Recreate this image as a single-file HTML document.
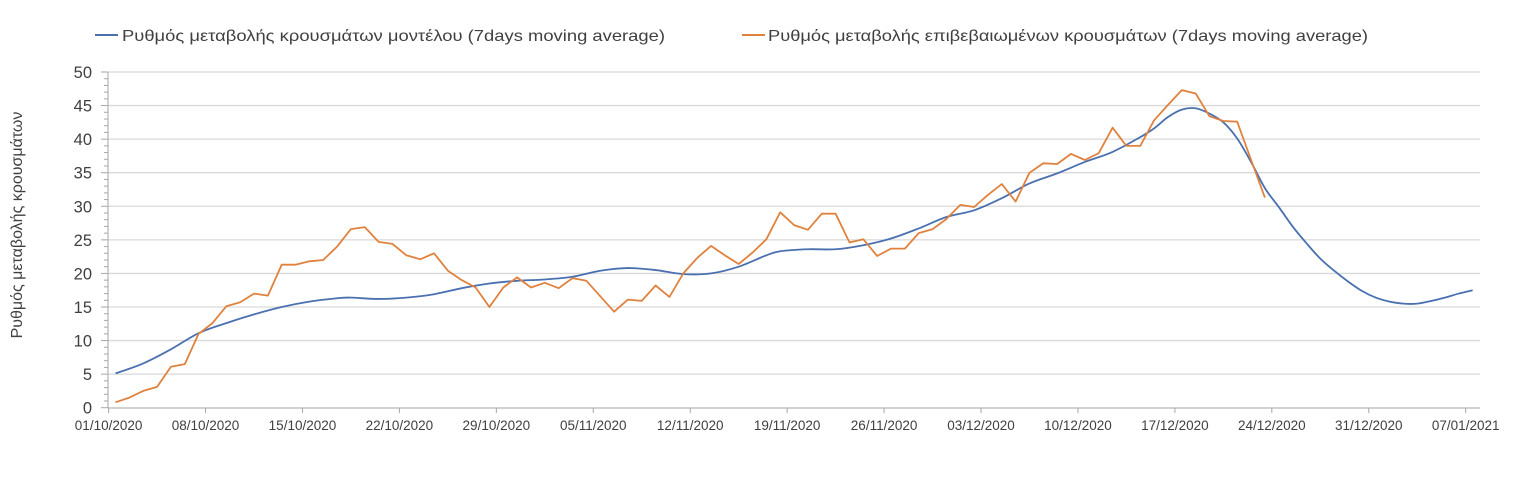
<!DOCTYPE html>
<html><head><meta charset="utf-8"><style>
html,body{margin:0;padding:0;background:#fff;width:1517px;height:487px;overflow:hidden}
svg{display:block;font-family:"Liberation Sans",sans-serif}
</style></head><body>
<svg id="s" width="1517" height="487" xmlns="http://www.w3.org/2000/svg">
<line x1="95" y1="35" x2="118" y2="35" stroke="#4a70b0" stroke-width="2"/>
<text x="122" y="41" font-size="16" fill="#404040" textLength="543" lengthAdjust="spacingAndGlyphs">Ρυθμός μεταβολής κρουσμάτων μοντέλου (7days moving average)</text>
<line x1="742" y1="35" x2="765" y2="35" stroke="#e0823e" stroke-width="2"/>
<text x="768" y="41" font-size="16" fill="#404040" textLength="600" lengthAdjust="spacingAndGlyphs">Ρυθμός μεταβολής επιβεβαιωμένων κρουσμάτων (7days moving average)</text>
<text transform="translate(22,225) rotate(-90)" text-anchor="middle" font-size="16" fill="#404040">Ρυθμός μεταβολής κρουσμάτων</text>
<g id="g"></g>
</svg>
<script>
var g=document.getElementById('g'),h='';
function X(d){return 108.6+13.848*(d+0.5);}
function Y(v){return 407.7-v*6.714;}
for(var v=0;v<=50;v+=5){var y=Y(v);
 if(v>0)h+='<line x1="108" y1="'+y+'" x2="1480" y2="'+y+'" stroke="#d9d9d9" stroke-width="1.3"/>';
 h+='<text x="92" y="'+(y+6)+'" text-anchor="end" font-size="16.5" fill="#404040">'+v+'</text>';}
for(var v=0;v<=50;v++){var y=Y(v);h+='<line x1="'+(v%5?104:101)+'" y1="'+y+'" x2="108" y2="'+y+'" stroke="#a6a6a6" stroke-width="1"/>';}
h+='<line x1="108" y1="72" x2="108" y2="408" stroke="#a6a6a6"/><line x1="108" y1="408" x2="1480" y2="408" stroke="#a6a6a6"/>';
var labs=['01/10/2020','08/10/2020','15/10/2020','22/10/2020','29/10/2020','05/11/2020','12/11/2020','19/11/2020','26/11/2020','03/12/2020','10/12/2020','17/12/2020','24/12/2020','31/12/2020','07/01/2021'];
for(var i=0;i<labs.length;i++){var x=108.6+13.848*7*i;h+='<line x1="'+x+'" y1="408" x2="'+x+'" y2="413" stroke="#a6a6a6"/>';
 h+='<text x="'+x+'" y="430" text-anchor="middle" font-size="13.5" fill="#404040">'+labs[i]+'</text>';}
var bk={0:5.1,2:6.6,4:8.7,6:11.1,8:12.6,10:13.9,12:15.0,14:15.8,16:16.3,17:16.4,19:16.2,21:16.4,23:16.9,25:17.8,27:18.5,29:18.9,31:19.1,33:19.5,35:20.4,37:20.8,39:20.5,41:19.9,43:20.0,45:21.0,47:22.7,48:23.3,50:23.6,52:23.6,54:24.2,56:25.2,58:26.7,60:28.4,62:29.4,64:31.2,66:33.4,68:34.9,70:36.6,72:38.1,74:40.3,75:41.6,76:43.3,77:44.4,78:44.6,79:43.8,80:42.5,81:40.1,82:36.6,83:32.7,84:29.9,85:27.0,86:24.5,87:22.2,88:20.4,89:18.8,90:17.4,91:16.4,92:15.8,93:15.5,94:15.5,95:15.9,96:16.4,97:17.0,98:17.5};
var ks=Object.keys(bk).map(Number).sort(function(a,b){return a-b}),bp=[];
for(var i=0;i<ks.length;i++)bp.push([X(ks[i]),Y(bk[ks[i]])]);
function smooth(p){var d='M'+p[0][0]+','+p[0][1];for(var i=0;i<p.length-1;i++){var p0=p[i-1]||p[i],p1=p[i],p2=p[i+1],p3=p[i+2]||p2;
 d+=' C'+(p1[0]+(p2[0]-p0[0])/6)+','+(p1[1]+(p2[1]-p0[1])/6)+' '+(p2[0]-(p3[0]-p1[0])/6)+','+(p2[1]-(p3[1]-p1[1])/6)+' '+p2[0]+','+p2[1];}return d;}
h+='<path d="'+smooth(bp)+'" fill="none" stroke="#4a70b0" stroke-width="1.8"/>';
var o=[0.8,1.5,2.5,3.1,6.1,6.5,11,12.6,15.1,15.7,17.0,16.7,21.3,21.3,21.8,22.0,24.0,26.6,26.9,24.7,24.4,22.7,22.1,23.0,20.4,19.0,17.9,15.0,17.9,19.4,17.9,18.6,17.8,19.3,18.9,16.6,14.3,16.1,15.9,18.2,16.5,20.0,22.3,24.1,22.7,21.4,23.1,25.1,29.1,27.2,26.5,28.9,28.9,24.6,25.1,22.6,23.7,23.7,26.0,26.6,28.1,30.2,29.9,31.7,33.3,30.7,35.0,36.4,36.3,37.8,36.9,37.9,41.7,39.0,39.0,42.8,45.1,47.3,46.8,43.4,42.7,42.6,36.9,31.3];
var pts=o.map(function(v,i){return X(i).toFixed(1)+','+Y(v).toFixed(1)}).join(' ');
h+='<polyline points="'+pts+'" fill="none" stroke="#e0823e" stroke-width="1.8" stroke-linejoin="round"/>';
g.innerHTML=h;
</script>
</body></html>
